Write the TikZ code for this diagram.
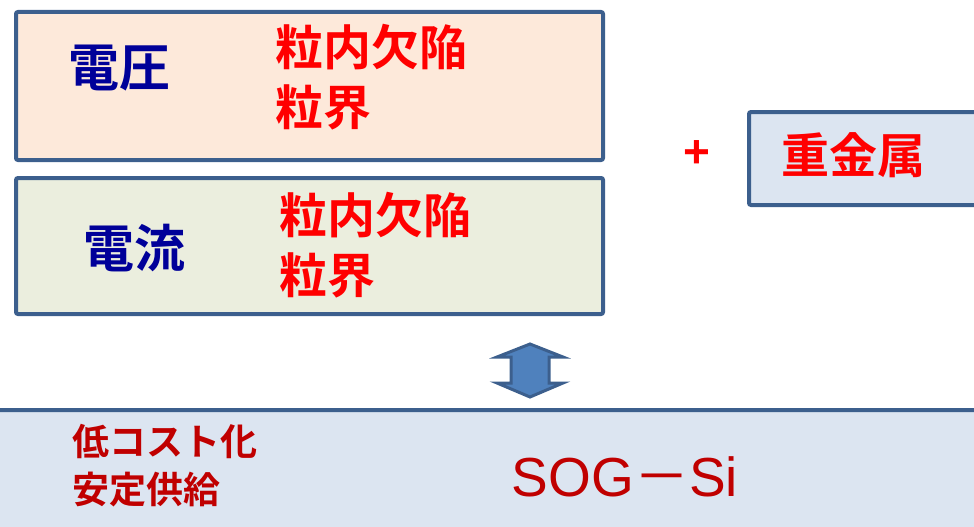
\documentclass[tikz,border=0pt]{standalone}
\usepackage{fontspec}
\setmainfont{Liberation Sans}
\newfontfamily\cjk{Noto Sans CJK JP}[BoldFont={* Bold}]
\definecolor{frame}{HTML}{3C5F8D}
\definecolor{peach}{HTML}{FDE9DA}
\definecolor{sage}{HTML}{EBEEDE}
\definecolor{paleblue}{HTML}{DCE5F1}
\definecolor{navy}{HTML}{000099}
\definecolor{brightred}{HTML}{FF0000}
\definecolor{darkred}{HTML}{C00000}
\definecolor{arrowfill}{HTML}{4F81BD}
\tikzset{
  panel/.style={draw=frame, line width=4pt, rounded corners=2pt, inner sep=0pt, anchor=north west},
  bluelabel/.style={text=navy, font=\cjk\bfseries\fontsize{51}{56}\selectfont, inner sep=0pt},
  redlabel/.style={text=brightred, font=\cjk\bfseries\fontsize{48}{60}\selectfont, inner sep=0pt, align=left, anchor=north west},
  dredlabel/.style={text=darkred, font=\cjk\bfseries\fontsize{37}{48}\selectfont, inner sep=0pt, align=left, anchor=north west},
}
\begin{document}
\begin{tikzpicture}[x=1pt,y=-1pt]
\useasboundingbox (0,0) rectangle (974,527);
% panels
\node[panel, fill=peach, minimum width=587pt, minimum height=148pt] (volt) at (14,10) {};
\node[panel, fill=sage, minimum width=587pt, minimum height=136pt] (curr) at (14,176) {};
\node[panel, fill=paleblue, minimum width=240pt, minimum height=93pt] (metal) at (747,110) {};
\node[panel, fill=paleblue, minimum width=990pt, minimum height=140pt] (sog) at (-6,408) {};
% texts
\node[bluelabel] (voltlbl) at (119,68) {電圧};
\node[redlabel] (voltdef) at (275,24) {粒内欠陥\\粒界};
\node[bluelabel] (currlbl) at (134,248) {電流};
\node[redlabel] (currdef) at (279,192) {粒内欠陥\\粒界};
\node[text=brightred, font=\bfseries\fontsize{46}{50}\selectfont, inner sep=0pt] (plus) at (697,154) {+};
\node[text=brightred, font=\cjk\bfseries\fontsize{48}{56}\selectfont, inner sep=0pt] (metallbl) at (853,155) {重金属};
\node[dredlabel] (costlbl) at (72,424) {低コスト化\\安定供給};
\node[text=darkred, font=\fontsize{55}{60}\selectfont, inner sep=0pt] (soglbl) at (625,477) {SOG{\cjk －}Si};
% double arrow
\coordinate (arrowtop) at (530,344);
\coordinate (arrowbot) at (530,397);
\draw[draw=frame, fill=arrowfill, line width=3pt, line join=miter]
  (arrowtop) -- (563,357) -- (549,357) -- (549,383) -- (563,383) -- (arrowbot)
  -- (497,383) -- (511,383) -- (511,357) -- (497,357) -- cycle;
\end{tikzpicture}
\end{document}
